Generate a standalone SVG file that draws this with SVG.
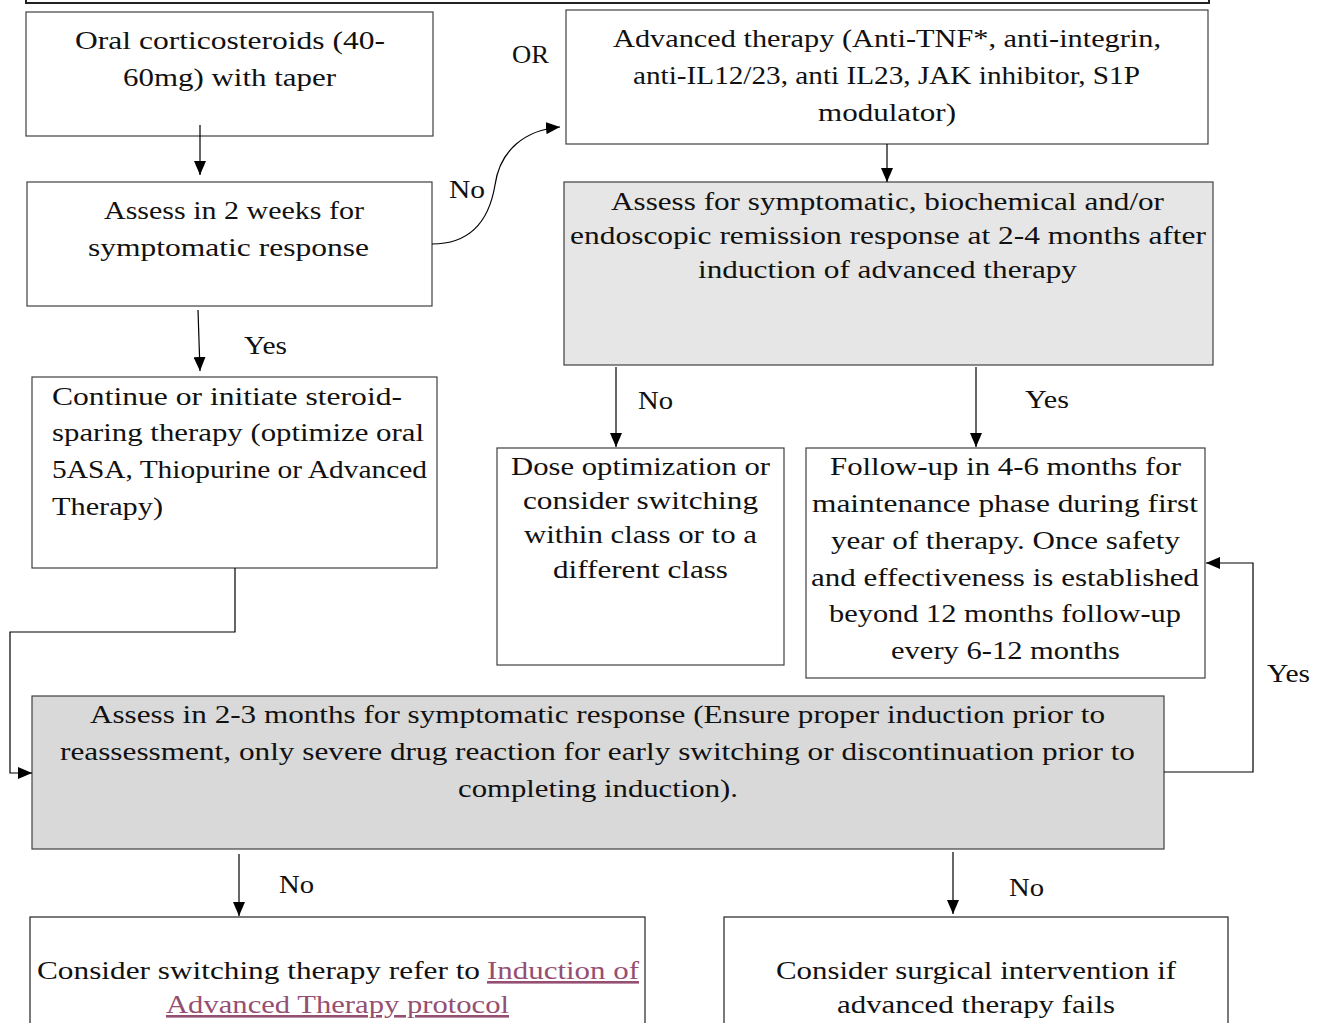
<svg xmlns="http://www.w3.org/2000/svg" width="1325" height="1023" viewBox="0 0 1325 1023">
<defs>
<marker id="ah" viewBox="0 0 14 12" refX="14" refY="6" markerWidth="14" markerHeight="12" markerUnits="userSpaceOnUse" orient="auto">
<path d="M0,0 L14,6 L0,12 z" fill="#000"/>
</marker>
</defs>
<style>
.box{fill:#fff;stroke:#404040;stroke-width:1.2}
.g1{fill:#e6e6e6;stroke:#404040;stroke-width:1.2}
.g2{fill:#d9d9d9;stroke:#404040;stroke-width:1.2}
text{font-family:"Liberation Serif","Times New Roman",serif;font-size:26px;fill:#111}
.lnk{fill:#954f72;text-decoration:underline}
.c{fill:none;stroke:#000;stroke-width:1.2}
</style>
<rect width="1325" height="1023" fill="#fff"/>
<g id="top"><rect x="26" y="-50" width="1183" height="53" fill="#fff" stroke="#222" stroke-width="2"/></g>
<g id="n1"><rect class="box" x="26" y="12" width="407" height="124"/>
<text x="75" y="49" textLength="310" lengthAdjust="spacingAndGlyphs">Oral corticosteroids (40-</text>
<text x="123" y="86" textLength="213" lengthAdjust="spacingAndGlyphs">60mg) with taper</text></g>
<g id="n2"><rect class="box" x="27" y="182" width="405" height="124"/>
<text x="104" y="219" textLength="260" lengthAdjust="spacingAndGlyphs">Assess in 2 weeks for</text>
<text x="88" y="256" textLength="281" lengthAdjust="spacingAndGlyphs">symptomatic response</text></g>
<g id="n3"><rect class="box" x="32" y="377" width="405" height="191"/>
<text x="52" y="405" textLength="350" lengthAdjust="spacingAndGlyphs">Continue or initiate steroid-</text>
<text x="52" y="441" textLength="372" lengthAdjust="spacingAndGlyphs">sparing therapy (optimize oral</text>
<text x="52" y="478" textLength="375" lengthAdjust="spacingAndGlyphs">5ASA, Thiopurine or Advanced</text>
<text x="52" y="515" textLength="111" lengthAdjust="spacingAndGlyphs">Therapy)</text></g>
<g id="n4"><rect class="box" x="566" y="10" width="642" height="134"/>
<text x="613" y="47" textLength="548" lengthAdjust="spacingAndGlyphs">Advanced therapy (Anti-TNF*, anti-integrin,</text>
<text x="633" y="84" textLength="507" lengthAdjust="spacingAndGlyphs">anti-IL12/23, anti IL23, JAK inhibitor, S1P</text>
<text x="818" y="121" textLength="138" lengthAdjust="spacingAndGlyphs">modulator)</text></g>
<g id="n6"><rect class="g1" x="564" y="182" width="649" height="183"/>
<text x="611" y="210" textLength="553" lengthAdjust="spacingAndGlyphs">Assess for symptomatic, biochemical and/or</text>
<text x="570" y="244" textLength="636" lengthAdjust="spacingAndGlyphs">endoscopic remission response at 2-4 months after</text>
<text x="698" y="278" textLength="379" lengthAdjust="spacingAndGlyphs">induction of advanced therapy</text></g>
<g id="n7"><rect class="box" x="497" y="448" width="287" height="217"/>
<text x="511" y="475" textLength="259" lengthAdjust="spacingAndGlyphs">Dose optimization or</text>
<text x="523" y="509" textLength="235" lengthAdjust="spacingAndGlyphs">consider switching</text>
<text x="524" y="543" textLength="233" lengthAdjust="spacingAndGlyphs">within class or to a</text>
<text x="553" y="578" textLength="175" lengthAdjust="spacingAndGlyphs">different class</text></g>
<g id="n8"><rect class="box" x="806" y="448" width="399" height="230"/>
<text x="830" y="475" textLength="351" lengthAdjust="spacingAndGlyphs">Follow-up in 4-6 months for</text>
<text x="812" y="512" textLength="386" lengthAdjust="spacingAndGlyphs">maintenance phase during first</text>
<text x="831" y="549" textLength="349" lengthAdjust="spacingAndGlyphs">year of therapy. Once safety</text>
<text x="811" y="586" textLength="388" lengthAdjust="spacingAndGlyphs">and effectiveness is established</text>
<text x="829" y="622" textLength="352" lengthAdjust="spacingAndGlyphs">beyond 12 months follow-up</text>
<text x="891" y="659" textLength="229" lengthAdjust="spacingAndGlyphs">every 6-12 months</text></g>
<g id="n5"><rect class="g2" x="32" y="696" width="1132" height="153"/>
<text x="90" y="723" textLength="1015" lengthAdjust="spacingAndGlyphs">Assess in 2-3 months for symptomatic response (Ensure proper induction prior to</text>
<text x="60" y="760" textLength="1075" lengthAdjust="spacingAndGlyphs">reassessment, only severe drug reaction for early switching or discontinuation prior to</text>
<text x="458" y="797" textLength="280" lengthAdjust="spacingAndGlyphs">completing induction).</text></g>
<g id="n9"><rect x="30" y="917" width="615" height="130" fill="#fff" stroke="#222" stroke-width="1.2"/>
<text x="37" y="979" textLength="443" lengthAdjust="spacingAndGlyphs">Consider switching therapy refer to</text>
<text class="lnk" x="487" y="979" textLength="152" lengthAdjust="spacingAndGlyphs">Induction of</text>
<text class="lnk" x="166" y="1013" textLength="343" lengthAdjust="spacingAndGlyphs">Advanced Therapy protocol</text></g>
<g id="n10"><rect x="724" y="917" width="504" height="130" fill="#fff" stroke="#222" stroke-width="1.2"/>
<text x="776" y="979" textLength="400" lengthAdjust="spacingAndGlyphs">Consider surgical intervention if</text>
<text x="837" y="1013" textLength="278" lengthAdjust="spacingAndGlyphs">advanced therapy fails</text></g>
<g id="connectors">
<line class="c" x1="200" y1="125" x2="200" y2="175" marker-end="url(#ah)"/>
<line class="c" x1="198" y1="310" x2="200" y2="371" marker-end="url(#ah)"/>
<path class="c" d="M432,244 C475,244 490,215 495,185 C500,150 525,130 560,127" marker-end="url(#ah)"/>
<line class="c" x1="887" y1="144" x2="887" y2="182" marker-end="url(#ah)"/>
<line class="c" x1="616" y1="367" x2="616" y2="447" marker-end="url(#ah)"/>
<line class="c" x1="976" y1="367" x2="976" y2="447" marker-end="url(#ah)"/>
<polyline class="c" points="235,568 235,632 10,632 10,773 32,773" marker-end="url(#ah)"/>
<polyline class="c" points="1164,772 1253,772 1253,563 1206,563" marker-end="url(#ah)"/>
<line class="c" x1="239" y1="854" x2="239" y2="916" marker-end="url(#ah)"/>
<line class="c" x1="953" y1="852" x2="953" y2="914" marker-end="url(#ah)"/>
<text x="512" y="63" textLength="37" lengthAdjust="spacingAndGlyphs">OR</text>
<text x="449" y="198" textLength="36" lengthAdjust="spacingAndGlyphs">No</text>
<text x="244" y="354" textLength="43" lengthAdjust="spacingAndGlyphs">Yes</text>
<text x="638" y="409" textLength="35" lengthAdjust="spacingAndGlyphs">No</text>
<text x="1025" y="408" textLength="44" lengthAdjust="spacingAndGlyphs">Yes</text>
<text x="1267" y="682" textLength="43" lengthAdjust="spacingAndGlyphs">Yes</text>
<text x="279" y="893" textLength="35" lengthAdjust="spacingAndGlyphs">No</text>
<text x="1009" y="896" textLength="35" lengthAdjust="spacingAndGlyphs">No</text>
</g>
</svg>
